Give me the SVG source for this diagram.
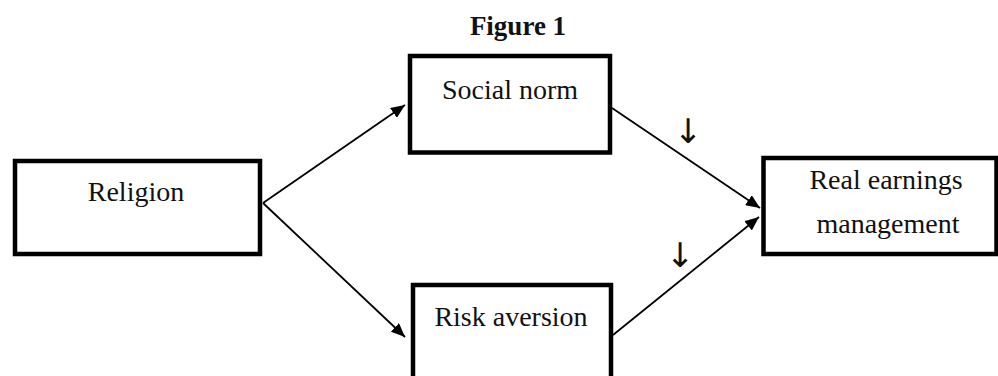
<svg xmlns="http://www.w3.org/2000/svg" width="998" height="376" viewBox="0 0 998 376">
<style>
.box{fill:#fff;stroke:#000;stroke-width:4.5}
.lbl{font-family:"Liberation Serif","Times New Roman",serif;font-size:28px;fill:#111;text-anchor:middle}
.title{font-family:"Liberation Serif","Times New Roman",serif;font-size:27px;font-weight:bold;fill:#111;text-anchor:middle}
.conn{stroke:#000;stroke-width:1.8;fill:none;marker-end:url(#ah)}
.dn{font-family:"DejaVu Sans",sans-serif;font-size:34px;fill:#111;text-anchor:middle}
</style>
<defs>
<marker id="ah" markerUnits="userSpaceOnUse" markerWidth="16" markerHeight="12" refX="14" refY="6" orient="auto">
<path d="M0,0 L14,6 L0,12 Z" fill="#000"/>
</marker>
</defs>
<rect width="998" height="376" fill="#fff"/>
<text class="title" x="518" y="35">Figure 1</text>
<g id="connectors">
<line class="conn" x1="263" y1="203" x2="405" y2="105"/>
<line class="conn" x1="263" y1="203" x2="405" y2="337"/>
<line class="conn" x1="612" y1="108" x2="760" y2="208"/>
<line class="conn" x1="613" y1="335" x2="759" y2="217"/>
<text class="dn" x="688" y="143">↓</text>
<text class="dn" x="680" y="267">↓</text>
</g>
<g id="religion">
<rect class="box" x="15" y="161" width="245" height="93"/>
<text class="lbl" x="136" y="201">Religion</text>
</g>
<g id="social-norm">
<rect class="box" x="410" y="56" width="200" height="96.5"/>
<text class="lbl" x="510" y="99">Social norm</text>
</g>
<g id="risk-aversion">
<rect class="box" x="413" y="285" width="198" height="98"/>
<text class="lbl" x="511" y="326">Risk aversion</text>
</g>
<g id="real-earnings">
<rect class="box" x="763.5" y="158" width="233" height="96"/>
<text class="lbl" x="886" y="189">Real earnings</text>
<text class="lbl" x="888" y="233">management</text>
</g>
</svg>
